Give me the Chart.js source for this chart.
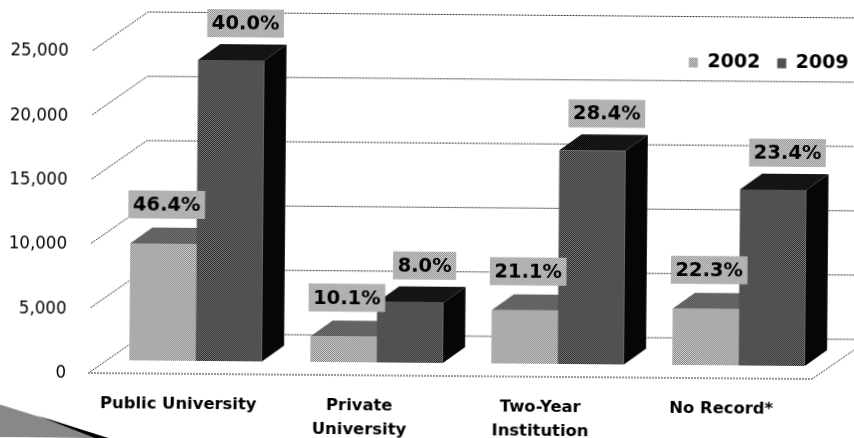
<!DOCTYPE html>
<html><head><meta charset="utf-8">
<style>html,body{margin:0;padding:0;background:#fff;overflow:hidden;width:854px;height:438px}
canvas{display:block;transform:rotate(0.48deg);transform-origin:88px 373px}</style>
<script src="https://cdn.jsdelivr.net/npm/chart.js@4/dist/chart.umd.min.js"></script>
</head><body><canvas id="c" width="854" height="438"></canvas>
<script>
const categories = [['Public University'], ['Private', 'University'], ['Two-Year', 'Institution'], ['No Record*']];
const years = ['2002', '2009'];
const values2002 = [9100, 1980, 4140, 4370];
const values2009 = [23400, 4680, 16614, 13689];
const labels2002 = ['46.4%', '10.1%', '21.1%', '22.3%'];
const labels2009 = ['40.0%', '8.0%', '28.4%', '23.4%'];
const yTicks = [0, 5000, 10000, 15000, 20000, 25000];

function tile(a, b) {
  const t = document.createElement('canvas'); t.width = t.height = 2;
  const g = t.getContext('2d');
  g.fillStyle = a; g.fillRect(0, 0, 2, 2);
  g.fillStyle = b; g.fillRect(0, 0, 1, 1); g.fillRect(1, 1, 1, 1);
  return g.createPattern(t, 'repeat');
}
const ctx0 = document.getElementById('c').getContext('2d');
const light = tile('#dcdcdc', '#7a7a7a'), dark = tile('#7c7c7c', '#262626');
const lightTop = tile('#8a8a8a', '#3c3c3c'), darkTop = tile('#242424', '#050505');
const labelFill = tile('#cfcfcf', '#939393'), wedgeFill = tile('#c4c4c4', '#4c4c4c');
const sideColor = '#060606';

const WALL = {dx: 57, dy: 40};
const BAR = {dx: 17, dy: 13, depthX: 22, depthY: 16};

const scene = {
  id: 'scene',
  beforeLayout(chart) {
    const l = chart.legend;
    if (l && !l._patched) { const f = l.fit; l.fit = function () { f.call(this); this.height = 0; }; l._patched = true; }
  },
  afterLayout(chart) {
    const l = chart.legend;
    l.left = 0; l.right = 863; l.top = 31; l.bottom = 100; l.width = 863; l.height = 69;
  },
  beforeDraw(chart) {
    const c = chart.ctx;
    c.save();
    c.fillStyle = wedgeFill;
    c.beginPath(); c.moveTo(-4, 404); c.lineTo(122, 442); c.lineTo(-4, 442); c.closePath(); c.fill();
    c.fillStyle = '#000';
    c.beginPath(); c.moveTo(38, 416); c.lineTo(122, 442); c.lineTo(106, 442); c.closePath(); c.fill();
    c.restore();
    const {left, right} = chart.chartArea, y = chart.scales.y;
    c.save();
    c.strokeStyle = '#333'; c.lineWidth = 1; c.setLineDash([2, 1]);
    yTicks.forEach(v => {
      const p = y.getPixelForValue(v);
      c.beginPath(); c.moveTo(left + 2, p - 1); c.lineTo(left + WALL.dx, p - WALL.dy);
      c.lineTo(right + WALL.dx, p - WALL.dy); c.stroke();
    });
    const p0 = y.getPixelForValue(0);
    c.beginPath(); c.moveTo(left, p0); c.lineTo(right, p0);
    c.lineTo(right + WALL.dx, p0 - WALL.dy); c.stroke();
    c.restore();
  },
  beforeDatasetsDraw(chart) {
    const c = chart.ctx;
    c.save();
    c.translate(BAR.dx, -BAR.dy);
    [0, 1].forEach(i => {
      chart.getDatasetMeta(i).data.forEach(b => {
        const l = b.x - b.width / 2, r = b.x + b.width / 2, t = b.y, bt = b.base;
        c.fillStyle = i ? darkTop : lightTop;
        c.beginPath(); c.moveTo(l, t); c.lineTo(l + BAR.depthX, t - BAR.depthY);
        c.lineTo(r + BAR.depthX, t - BAR.depthY); c.lineTo(r, t); c.closePath(); c.fill();
        c.fillStyle = sideColor;
        c.beginPath(); c.moveTo(r, t); c.lineTo(r + BAR.depthX, t - BAR.depthY);
        c.lineTo(r + BAR.depthX, bt - BAR.depthY); c.lineTo(r, bt); c.closePath(); c.fill();
      });
    });
  },
  afterDatasetsDraw(chart) {
    const c = chart.ctx;
    c.restore();
    c.save();
    c.font = 'bold 19.5px "DejaVu Sans"';
    c.textAlign = 'center'; c.textBaseline = 'middle';
    const texts = [labels2002, labels2009], off = [[3 + BAR.dx, -39 - BAR.dy], [14 + BAR.dx, -37 - BAR.dy]];
    [0, 1].forEach(i => {
      chart.getDatasetMeta(i).data.forEach((b, k) => {
        const s = texts[i][k], w = c.measureText(s).width + 9, x = b.x + off[i][0], yy = b.y + off[i][1];
        c.fillStyle = labelFill;
        c.fillRect(x - w / 2, yy - 14, w, 28);
        c.fillStyle = '#000';
        c.fillText(s, x, yy + 1);
      });
    });
    c.restore();
  }
};

new Chart(ctx0, {
  type: 'bar',
  data: {
    labels: categories,
    datasets: [
      {label: years[0], data: values2002, backgroundColor: light, clip: false, barPercentage: 1, categoryPercentage: 0.733},
      {label: years[1], data: values2009, backgroundColor: dark, clip: false, barPercentage: 1, categoryPercentage: 0.733}
    ]
  },
  options: {
    responsive: false, animation: false, devicePixelRatio: 1,
    layout: {padding: {top: 51.5, right: 42, left: 0, bottom: 0}},
    plugins: {
      tooltip: {enabled: false},
      legend: {
        position: 'top', align: 'end',
        labels: {color: '#000', boxWidth: 9, boxHeight: 10, padding: 17, font: {family: '"DejaVu Sans"', weight: 'bold', size: 19}}
      }
    },
    scales: {
      x: {
        grid: {display: false}, border: {display: false},
        ticks: {color: '#000', autoSkip: false, maxRotation: 0, minRotation: 0, padding: 11,
          font: {family: '"DejaVu Sans"', weight: 'bold', size: 16.4, lineHeight: 1.46}},
        afterFit(s) { s.height = 65; }
      },
      y: {
        min: 0, max: 25000,
        grid: {display: false}, border: {display: false},
        ticks: {color: '#000', stepSize: 5000, padding: 14,
          font: {family: '"DejaVu Sans Condensed"', size: 18.5},
          callback: v => v.toLocaleString('en-US')},
        afterFit(s) { s.width = 88; }
      }
    }
  },
  plugins: [scene]
});
</script></body></html>
